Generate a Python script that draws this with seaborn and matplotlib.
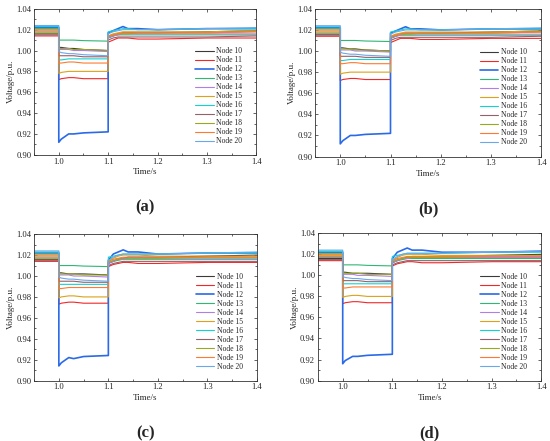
import numpy as np
import pandas as pd
import matplotlib
matplotlib.use("Agg")
import matplotlib.pyplot as plt
from matplotlib.ticker import MultipleLocator
import seaborn as sns

sns.set_style("ticks")
plt.rcParams['font.family'] = ['Liberation Serif', 'DejaVu Serif']

# time points (1.0 and 1.1 repeated so the fault steps are vertical)
t = [0.95, 1.0, 1.0, 1.005, 1.02, 1.03, 1.05, 1.1, 1.1, 1.11, 1.12, 1.13, 1.14, 1.16, 1.2, 1.3, 1.4]

nodes = ["Node 10", "Node 11", "Node 12", "Node 13", "Node 14", "Node 15",
         "Node 16", "Node 17", "Node 18", "Node 19", "Node 20"]
colors = ["#3a3a3a", "#f02828", "#2a6ae8", "#2eb872", "#b07ee8", "#dba21a",
          "#10d4d4", "#94606a", "#9aa820", "#ff7a30", "#6aa8ec"]

# case 1 : panels (a) and (b)
n10_1 = [1.016, 1.016, 1.003, 1.003, 1.002, 1.002, 1.001, 1.000, 1.012, 1.014, 1.016, 1.017, 1.017, 1.017, 1.017, 1.018, 1.019]
n11_1 = [1.014, 1.014, 0.972, 0.973, 0.974, 0.974, 0.973, 0.973, 1.008, 1.010, 1.012, 1.012, 1.012, 1.011, 1.011, 1.012, 1.012]
n12_1 = [1.022, 1.022, 0.912, 0.915, 0.920, 0.920, 0.921, 0.922, 1.017, 1.019, 1.021, 1.023, 1.021, 1.021, 1.020, 1.021, 1.021]
n13_1 = [1.021, 1.021, 1.010, 1.010, 1.010, 1.010, 1.0095, 1.009, 1.013, 1.014, 1.015, 1.015, 1.015, 1.015, 1.015, 1.015, 1.015]
n14_1 = [1.018, 1.018, 1.001, 1.001, 1.001, 1.000, 1.000, 0.999, 1.012, 1.014, 1.015, 1.016, 1.016, 1.016, 1.016, 1.016, 1.016]
n15_1 = [1.019, 1.019, 0.978, 0.979, 0.980, 0.980, 0.980, 0.980, 1.014, 1.016, 1.017, 1.018, 1.018, 1.018, 1.018, 1.018, 1.019]
n16_1 = [1.023, 1.023, 0.991, 0.991, 0.992, 0.992, 0.992, 0.992, 1.018, 1.019, 1.020, 1.021, 1.021, 1.020, 1.020, 1.021, 1.021]
n17_1 = [1.015, 1.015, 0.995, 0.995, 0.995, 0.995, 0.994, 0.994, 1.010, 1.012, 1.013, 1.013, 1.013, 1.013, 1.013, 1.013, 1.014]
n18_1 = [1.017, 1.017, 1.002, 1.002, 1.002, 1.001, 1.001, 1.000, 1.013, 1.015, 1.016, 1.016, 1.016, 1.017, 1.017, 1.017, 1.018]
n19_1 = [1.020, 1.020, 0.988, 0.988, 0.989, 0.989, 0.988, 0.988, 1.014, 1.015, 1.016, 1.017, 1.017, 1.017, 1.017, 1.017, 1.018]
n20_1 = [1.024, 1.024, 0.999, 0.998, 0.997, 0.997, 0.996, 0.995, 1.016, 1.018, 1.019, 1.020, 1.020, 1.020, 1.020, 1.021, 1.022]

# case 2 : panels (c) and (d)
n10_2 = [1.016, 1.016, 1.003, 1.003, 1.002, 1.002, 1.002, 1.001, 1.012, 1.014, 1.016, 1.017, 1.018, 1.018, 1.018, 1.019, 1.020]
n11_2 = [1.014, 1.014, 0.973, 0.974, 0.975, 0.975, 0.974, 0.974, 1.009, 1.011, 1.012, 1.013, 1.013, 1.012, 1.012, 1.013, 1.013]
n12_2 = [1.022, 1.022, 0.914, 0.917, 0.922, 0.921, 0.923, 0.924, 1.015, 1.021, 1.023, 1.025, 1.023, 1.023, 1.021, 1.022, 1.022]
n13_2 = [1.021, 1.021, 1.010, 1.010, 1.010, 1.010, 1.0095, 1.009, 1.013, 1.014, 1.015, 1.016, 1.016, 1.016, 1.016, 1.016, 1.016]
n14_2 = [1.018, 1.018, 1.001, 1.001, 1.001, 1.000, 1.000, 0.999, 1.012, 1.014, 1.016, 1.016, 1.017, 1.017, 1.017, 1.017, 1.017]
n15_2 = [1.019, 1.019, 0.979, 0.980, 0.981, 0.981, 0.980, 0.980, 1.014, 1.017, 1.019, 1.020, 1.020, 1.020, 1.019, 1.019, 1.019]
n16_2 = [1.023, 1.023, 0.992, 0.992, 0.992, 0.992, 0.992, 0.992, 1.018, 1.019, 1.020, 1.021, 1.021, 1.021, 1.021, 1.022, 1.022]
n17_2 = [1.015, 1.015, 0.995, 0.995, 0.995, 0.995, 0.994, 0.994, 1.010, 1.012, 1.013, 1.014, 1.014, 1.014, 1.014, 1.014, 1.014]
n18_2 = [1.017, 1.017, 1.002, 1.002, 1.002, 1.002, 1.001, 1.001, 1.013, 1.015, 1.016, 1.017, 1.017, 1.017, 1.017, 1.018, 1.018]
n19_2 = [1.020, 1.020, 0.988, 0.988, 0.989, 0.989, 0.989, 0.989, 1.014, 1.016, 1.017, 1.018, 1.018, 1.018, 1.018, 1.018, 1.018]
n20_2 = [1.024, 1.024, 0.999, 0.998, 0.997, 0.997, 0.996, 0.995, 1.015, 1.018, 1.020, 1.021, 1.021, 1.021, 1.021, 1.022, 1.023]

# node 12 in panel (d)
n12_d = [1.022, 1.022, 0.916, 0.919, 0.923, 0.923, 0.924, 0.925, 1.016, 1.022, 1.024, 1.026, 1.024, 1.024, 1.022, 1.022, 1.023]

case1 = [n10_1, n11_1, n12_1, n13_1, n14_1, n15_1, n16_1, n17_1, n18_1, n19_1, n20_1]
case2 = [n10_2, n11_2, n12_2, n13_2, n14_2, n15_2, n16_2, n17_2, n18_2, n19_2, n20_2]
case2d = [n10_2, n11_2, n12_d, n13_2, n14_2, n15_2, n16_2, n17_2, n18_2, n19_2, n20_2]

panels = [("(a)", case1, [0.062, 0.649, 0.404, 0.331]),
          ("(b)", case1, [0.573, 0.645, 0.411, 0.335]),
          ("(c)", case2, [0.062, 0.137, 0.405, 0.332]),
          ("(d)", case2d, [0.578, 0.137, 0.406, 0.334])]

fig = plt.figure(figsize=(5.5, 4.41), dpi=100)

for label, case, pos in panels:
    ax = fig.add_axes(pos)
    for name, vals, c in zip(nodes, case, colors):
        df = pd.DataFrame({"t": t, "v": vals})
        lw = 1.2 if name == "Node 12" else 0.8
        sns.lineplot(data=df, x="t", y="v", estimator=None, sort=False,
                     color=c, lw=lw, label=name, ax=ax)
    ax.set_xlim(0.95, 1.4)
    ax.set_ylim(0.90, 1.04)
    ax.xaxis.set_major_locator(MultipleLocator(0.1))
    ax.yaxis.set_major_locator(MultipleLocator(0.02))
    ax.xaxis.set_minor_locator(MultipleLocator(0.05))
    ax.yaxis.set_minor_locator(MultipleLocator(0.01))
    ax.set_xticklabels([f"{x:.1f}" for x in ax.get_xticks()])
    ax.set_yticklabels([f"{y:.2f}" for y in ax.get_yticks()])
    ax.tick_params(which="both", direction="in", top=True, right=True,
                   labelsize=6.2, width=0.5, pad=2)
    ax.tick_params(which="major", length=2.5)
    ax.tick_params(which="minor", length=1.5)
    for s in ax.spines.values():
        s.set_linewidth(0.6)
        s.set_color("#333333")
    ax.set_xlabel("Time/s", fontsize=6.5, labelpad=2)
    ax.set_ylabel("Voltage/p.u.", fontsize=6.5, labelpad=1)
    ax.legend(loc="center right", bbox_to_anchor=(0.95, 0.40), frameon=False,
              fontsize=5.5, handlelength=2.4, labelspacing=0.13,
              handletextpad=0.3, borderaxespad=0.0)
    ax.text(0.5, -0.36, label, transform=ax.transAxes, ha="center", va="center",
            fontsize=12, fontweight="bold")

fig.savefig("out.png", dpi=100)
